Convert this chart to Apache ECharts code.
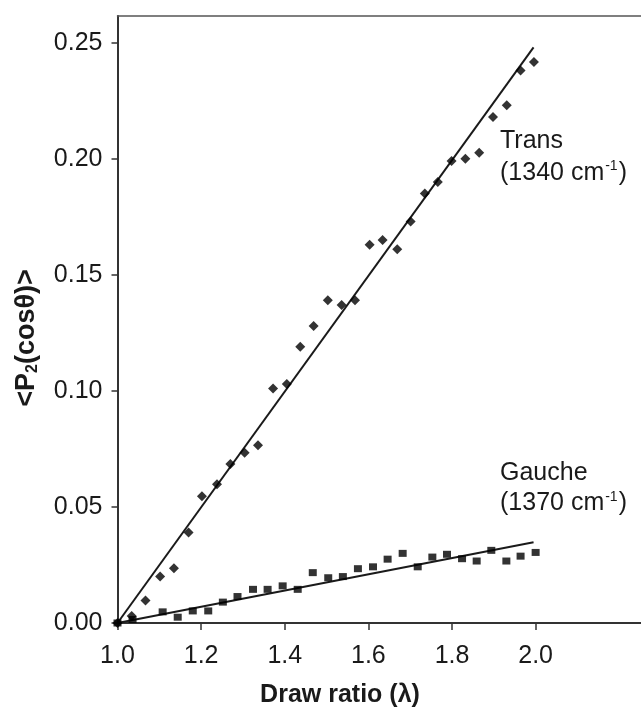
<!DOCTYPE html>
<html>
<head>
<meta charset="utf-8">
<script src="https://cdn.jsdelivr.net/npm/echarts@6/dist/echarts.min.js"></script>
<style>
  html, body { margin: 0; padding: 0; background: #fff; }
  #chart { width: 641px; height: 713px; }
</style>
</head>
<body>
<div id="chart"></div>
<script>
// Orientation order parameter <P2(cosθ)> versus draw ratio
const transDrawRatio = [1.0, 1.034, 1.067, 1.102, 1.135, 1.17, 1.202, 1.238, 1.27, 1.304, 1.336, 1.372, 1.405, 1.437, 1.469, 1.503, 1.536, 1.568, 1.603, 1.634, 1.669, 1.701, 1.735, 1.766, 1.799, 1.832, 1.865, 1.898, 1.931, 1.964, 1.996];
const transP2 = [0.0, 0.003, 0.0097, 0.020, 0.0236, 0.039, 0.0546, 0.0598, 0.0685, 0.0733, 0.0766, 0.101, 0.103, 0.119, 0.128, 0.139, 0.137, 0.139, 0.163, 0.165, 0.161, 0.173, 0.185, 0.190, 0.199, 0.200, 0.2026, 0.218, 0.223, 0.238, 0.2417];

const gaucheDrawRatio = [1.0, 1.036, 1.108, 1.144, 1.18, 1.217, 1.252, 1.287, 1.324, 1.359, 1.395, 1.431, 1.467, 1.504, 1.539, 1.575, 1.611, 1.646, 1.682, 1.718, 1.753, 1.788, 1.824, 1.859, 1.894, 1.93, 1.964, 2.0];
const gaucheP2 = [0.0, 0.0015, 0.0048, 0.0025, 0.0052, 0.0052, 0.009, 0.0114, 0.0145, 0.0145, 0.016, 0.0145, 0.0217, 0.0195, 0.020, 0.0234, 0.0242, 0.0275, 0.030, 0.0242, 0.0284, 0.0296, 0.0277, 0.0267, 0.0313, 0.0267, 0.0288, 0.0304];

// Linear fits (end points)
const transFitX = [1.0, 1.995];
const transFitY = [0.0, 0.248];
const gaucheFitX = [1.0, 1.995];
const gaucheFitY = [0.0, 0.0348];

const xTicks = [1.0, 1.2, 1.4, 1.6, 1.8, 2.0];
const yTicks = [0.00, 0.05, 0.10, 0.15, 0.20, 0.25];

const zip = (xs, ys) => xs.map((x, i) => [x, ys[i]]);

const FONT = '"Liberation Sans", Arial, sans-serif';
const INK = '#1a1a1a';
const X_MIN = 1.0, X_MAX = 2.252;

const chart = echarts.init(document.getElementById('chart'), null, { renderer: 'canvas' });

chart.setOption({
  animation: false,
  backgroundColor: '#fff',
  grid: { left: 117.5, top: 16, bottom: 90, right: 0, show: false },
  xAxis: [
    {
      type: 'value', min: X_MIN, max: X_MAX,
      axisLine: { show: true, onZero: false, lineStyle: { color: '#333', width: 2 } },
      axisTick: { show: true, length: 7, lineStyle: { color: '#333', width: 1.5 }, customValues: xTicks },
      axisLabel: {
        customValues: xTicks, margin: 21,
        color: INK, fontFamily: FONT, fontSize: 25,
        formatter: v => v.toFixed(1)
      },
      splitLine: { show: false }
    },
    {
      // upper frame line
      type: 'value', position: 'top', min: X_MIN, max: X_MAX,
      axisLine: { show: true, onZero: false, lineStyle: { color: '#555', width: 1.5 } },
      axisTick: { show: false }, axisLabel: { show: false }, splitLine: { show: false }
    }
  ],
  yAxis: {
    type: 'value', min: 0, max: 0.2615,
    axisLine: { show: true, lineStyle: { color: '#333', width: 2 } },
    axisTick: { show: true, length: 6, lineStyle: { color: '#333', width: 1.5 }, customValues: yTicks },
    axisLabel: {
      customValues: yTicks, margin: 15,
      color: INK, fontFamily: FONT, fontSize: 25,
      formatter: v => v.toFixed(2)
    },
    splitLine: { show: false }
  },
  series: [
    {
      name: 'Trans fit', type: 'line', data: zip(transFitX, transFitY),
      showSymbol: false, symbol: 'none',
      lineStyle: { color: INK, width: 2 }, z: 2
    },
    {
      name: 'Gauche fit', type: 'line', data: zip(gaucheFitX, gaucheFitY),
      showSymbol: false, symbol: 'none',
      lineStyle: { color: INK, width: 2 }, z: 2
    },
    {
      name: 'Trans (1340 cm-1)', type: 'scatter', data: zip(transDrawRatio, transP2),
      symbol: 'diamond', symbolSize: 10,
      itemStyle: { color: '#000' }, z: 3
    },
    {
      name: 'Gauche (1370 cm-1)', type: 'scatter', data: zip(gaucheDrawRatio, gaucheP2),
      symbol: 'rect', symbolSize: [8, 7],
      itemStyle: { color: '#000' }, z: 3
    }
  ],
  graphic: [
    {
      type: 'text', left: 500, top: 125,
      style: {
        text: 'Trans\n(1340 cm{sup|-1})',
        fill: INK, font: '25px ' + FONT, lineHeight: 32,
        rich: { sup: { fontSize: 14, fontFamily: FONT, fill: INK, verticalAlign: 'top', lineHeight: 32, padding: [2, 1, 0, 1] } }
      }
    },
    {
      type: 'text', left: 500, top: 458,
      style: {
        text: 'Gauche\n(1370 cm{sup|-1})',
        fill: INK, font: '25px ' + FONT, lineHeight: 30,
        rich: { sup: { fontSize: 14, fontFamily: FONT, fill: INK, verticalAlign: 'top', lineHeight: 30, padding: [2, 1, 0, 1] } }
      }
    },
    {
      type: 'text', x: 340, y: 695,
      style: {
        text: 'Draw ratio (λ)', fill: INK,
        font: 'bold 25px ' + FONT, align: 'center', verticalAlign: 'middle'
      }
    },
    {
      type: 'text', x: 27, y: 338, rotation: Math.PI / 2,
      style: {
        text: '<P{sub|2}(cosθ)>', fill: INK,
        font: 'bold 27px ' + FONT, align: 'center', verticalAlign: 'middle',
        rich: { sub: { fontSize: 16, fontWeight: 'bold', fontFamily: FONT, fill: INK, verticalAlign: 'bottom' } }
      }
    }
  ]
});
</script>
</body>
</html>
